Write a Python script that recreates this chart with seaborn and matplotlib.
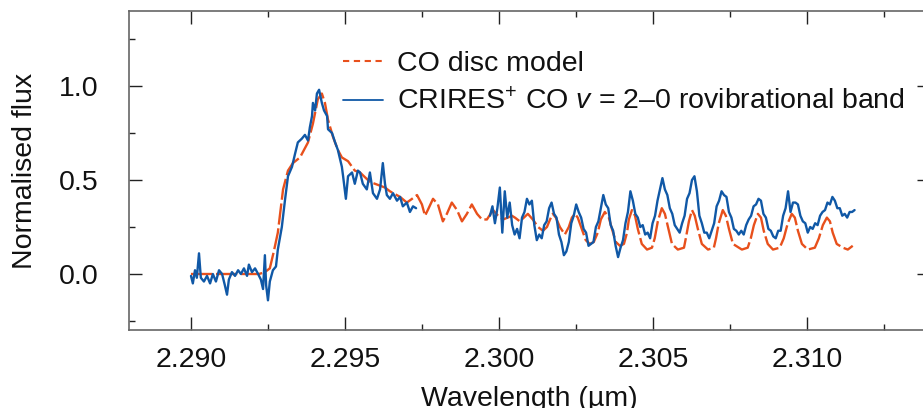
import matplotlib

matplotlib.use("Agg")
import matplotlib.pyplot as plt
import pandas as pd
import seaborn as sns
from matplotlib.lines import Line2D
from matplotlib.ticker import MultipleLocator

# CRIRES+ spectrum, first segment (up to ~2.2973 µm)
OBS_WAVE_1 = [
    2.29000, 2.29006, 2.29013, 2.29019, 2.29026, 2.29032, 2.29042, 2.29052, 2.29062, 2.29071,
    2.29081, 2.29091, 2.29101, 2.29110, 2.29117, 2.29123, 2.29133, 2.29143, 2.29153, 2.29162,
    2.29172, 2.29182, 2.29188, 2.29198, 2.29208, 2.29218, 2.29227, 2.29234, 2.29240, 2.29244,
    2.29250, 2.29256, 2.29266, 2.29276, 2.29282, 2.29295, 2.29305, 2.29315, 2.29328, 2.29338,
    2.29347, 2.29360, 2.29370, 2.29380, 2.29386, 2.29393, 2.29396, 2.29403, 2.29409, 2.29416,
    2.29425, 2.29432, 2.29442, 2.29445, 2.29458, 2.29468, 2.29477, 2.29490, 2.29494, 2.29503,
    2.29510, 2.29523, 2.29532, 2.29542, 2.29549, 2.29558, 2.29571, 2.29581, 2.29591, 2.29604,
    2.29614, 2.29623, 2.29630, 2.29636, 2.29646, 2.29656, 2.29669, 2.29679, 2.29688, 2.29701,
    2.29711, 2.29721, 2.29731,
]
OBS_FLUX_1 = [
    -0.01, -0.05, 0.02, -0.02, 0.11, -0.02, -0.04, -0.01, -0.05, 0.00,
    -0.04, 0.02, 0.00, -0.06, -0.11, -0.03, 0.01, -0.01, 0.02, 0.00,
    0.03, -0.01, 0.05, 0.01, 0.03, 0.00, -0.03, -0.08, 0.10, -0.06,
    -0.14, -0.04, 0.02, 0.04, 0.13, 0.25, 0.39, 0.52, 0.57, 0.64,
    0.70, 0.72, 0.74, 0.71, 0.78, 0.84, 0.91, 0.87, 0.96, 0.98,
    0.91, 0.87, 0.84, 0.77, 0.75, 0.70, 0.66, 0.57, 0.52, 0.40,
    0.52, 0.54, 0.48, 0.55, 0.54, 0.48, 0.45, 0.54, 0.43, 0.40,
    0.45, 0.59, 0.48, 0.42, 0.40, 0.43, 0.39, 0.41, 0.36, 0.38,
    0.33, 0.36, 0.35,
]

# CRIRES+ spectrum, second segment (from ~2.2997 µm)
OBS_WAVE_2 = [
    2.29971, 2.29979, 2.29987, 2.29995, 2.30003, 2.30011, 2.30019, 2.30027, 2.30035, 2.30043,
    2.30051, 2.30059, 2.30067, 2.30075, 2.30083, 2.30091, 2.30099, 2.30107, 2.30115, 2.30123,
    2.30131, 2.30139, 2.30147, 2.30155, 2.30163, 2.30171, 2.30179, 2.30187, 2.30195, 2.30203,
    2.30211, 2.30219, 2.30227, 2.30235, 2.30243, 2.30251, 2.30259, 2.30267, 2.30275, 2.30283,
    2.30291, 2.30299, 2.30307, 2.30315, 2.30323, 2.30331, 2.30339, 2.30347, 2.30355, 2.30363,
    2.30371, 2.30379, 2.30387, 2.30395, 2.30403, 2.30411, 2.30419, 2.30427, 2.30435, 2.30443,
    2.30451, 2.30459, 2.30467, 2.30475, 2.30483, 2.30491, 2.30499, 2.30507, 2.30515, 2.30523,
    2.30531, 2.30539, 2.30547, 2.30555, 2.30563, 2.30571, 2.30579, 2.30587, 2.30595, 2.30603,
    2.30611, 2.30619, 2.30627, 2.30635, 2.30643, 2.30651, 2.30659, 2.30667, 2.30675, 2.30683,
    2.30691, 2.30699, 2.30707, 2.30715, 2.30723, 2.30731, 2.30739, 2.30747, 2.30755, 2.30763,
    2.30771, 2.30779, 2.30787, 2.30795, 2.30803, 2.30811, 2.30819, 2.30827, 2.30835, 2.30843,
    2.30851, 2.30859, 2.30867, 2.30875, 2.30883, 2.30891, 2.30899, 2.30907, 2.30915, 2.30923,
    2.30931, 2.30939, 2.30947, 2.30955, 2.30963, 2.30971, 2.30979, 2.30987, 2.30995, 2.31003,
    2.31011, 2.31019, 2.31027, 2.31035, 2.31043, 2.31051, 2.31059, 2.31067, 2.31075, 2.31083,
    2.31091, 2.31099, 2.31107, 2.31115, 2.31123, 2.31131, 2.31139, 2.31147, 2.31155,
]
OBS_FLUX_2 = [
    0.31, 0.36, 0.27, 0.35, 0.46, 0.22, 0.44, 0.30, 0.38, 0.26,
    0.21, 0.24, 0.19, 0.30, 0.33, 0.40, 0.37, 0.39, 0.26, 0.18,
    0.21, 0.19, 0.26, 0.28, 0.35, 0.38, 0.32, 0.30, 0.21, 0.17,
    0.10, 0.12, 0.17, 0.27, 0.31, 0.37, 0.33, 0.30, 0.24, 0.22,
    0.15, 0.16, 0.17, 0.25, 0.28, 0.35, 0.42, 0.37, 0.35, 0.26,
    0.23, 0.15, 0.09, 0.14, 0.18, 0.27, 0.33, 0.44, 0.39, 0.32,
    0.30, 0.25, 0.26, 0.21, 0.22, 0.19, 0.27, 0.31, 0.39, 0.45,
    0.51, 0.45, 0.42, 0.35, 0.32, 0.26, 0.24, 0.22, 0.27, 0.31,
    0.40, 0.43, 0.50, 0.52, 0.44, 0.31, 0.27, 0.22, 0.22, 0.19,
    0.23, 0.27, 0.36, 0.39, 0.44, 0.42, 0.41, 0.33, 0.30, 0.24,
    0.23, 0.21, 0.23, 0.21, 0.26, 0.29, 0.31, 0.36, 0.37, 0.40,
    0.39, 0.32, 0.30, 0.24, 0.23, 0.20, 0.19, 0.23, 0.23, 0.31,
    0.35, 0.44, 0.33, 0.38, 0.38, 0.37, 0.31, 0.28, 0.27, 0.22,
    0.25, 0.24, 0.27, 0.26, 0.31, 0.33, 0.34, 0.38, 0.37, 0.41,
    0.39, 0.35, 0.35, 0.31, 0.32, 0.30, 0.33, 0.33, 0.34,
]

# CO disc model
MODEL_WAVE = [
    2.29000, 2.29221, 2.29240, 2.29256, 2.29269, 2.29282, 2.29299, 2.29315, 2.29331, 2.29354,
    2.29380, 2.29396, 2.29412, 2.29425, 2.29435, 2.29445, 2.29461, 2.29477, 2.29490, 2.29510,
    2.29532, 2.29549, 2.29581, 2.29614, 2.29630, 2.29646, 2.29679, 2.29701, 2.29718, 2.29734,
    2.29750, 2.29760, 2.29769, 2.29786, 2.29802, 2.29818, 2.29831, 2.29847, 2.29864, 2.29880,
    2.29896, 2.29912, 2.29929, 2.29945, 2.29961, 2.29981, 2.29997, 2.30013, 2.30029, 2.30042,
    2.30052, 2.30068, 2.30094, 2.30110,
    2.30127, 2.30143, 2.30156, 2.30166, 2.30175, 2.30185, 2.30198, 2.30214, 2.30227, 2.30237,
    2.30247, 2.30256, 2.30269, 2.30282, 2.30295, 2.30308, 2.30321, 2.30331, 2.30344, 2.30357,
    2.30367, 2.30380, 2.30393, 2.30406, 2.30416, 2.30422, 2.30432, 2.30442, 2.30451, 2.30464,
    2.30481, 2.30497, 2.30506, 2.30516, 2.30529, 2.30539, 2.30549, 2.30562, 2.30581, 2.30601,
    2.30607, 2.30617, 2.30627, 2.30636, 2.30646, 2.30659, 2.30679, 2.30698, 2.30705, 2.30714,
    2.30727, 2.30737, 2.30747, 2.30760, 2.30789, 2.30808, 2.30818, 2.30828, 2.30841, 2.30851,
    2.30860, 2.30873, 2.30890, 2.30912, 2.30925, 2.30938, 2.30951, 2.30961, 2.30971, 2.30984,
    2.31003, 2.31026, 2.31039, 2.31052, 2.31065, 2.31075, 2.31084, 2.31097, 2.31117, 2.31133,
    2.31149,
]
MODEL_FLUX = [
    0.00, 0.00, 0.01, 0.03, 0.12, 0.22, 0.45, 0.55, 0.59, 0.62,
    0.70, 0.80, 0.93, 0.96, 0.91, 0.82, 0.73, 0.66, 0.62, 0.60,
    0.55, 0.54, 0.49, 0.47, 0.46, 0.44, 0.41, 0.38, 0.40, 0.42,
    0.37, 0.31, 0.34, 0.40, 0.37, 0.28, 0.32, 0.38, 0.34, 0.28,
    0.32, 0.37, 0.32, 0.29, 0.29, 0.34, 0.31, 0.29, 0.30, 0.31,
    0.30, 0.28, 0.32, 0.29,
    0.25, 0.23, 0.25, 0.29, 0.32, 0.30, 0.25, 0.21, 0.25, 0.30,
    0.32, 0.30, 0.24, 0.18, 0.16, 0.17, 0.22, 0.29, 0.33, 0.30,
    0.24, 0.17, 0.15, 0.16, 0.22, 0.29, 0.34, 0.31, 0.24, 0.16,
    0.13, 0.14, 0.19, 0.28, 0.35, 0.32, 0.25, 0.16, 0.13, 0.14,
    0.19, 0.28, 0.34, 0.31, 0.24, 0.16, 0.13, 0.14, 0.19, 0.27,
    0.34, 0.31, 0.24, 0.16, 0.13, 0.14, 0.19, 0.26, 0.32, 0.30,
    0.23, 0.16, 0.13, 0.14, 0.19, 0.27, 0.32, 0.30, 0.23, 0.16,
    0.13, 0.14, 0.19, 0.26, 0.30, 0.28, 0.22, 0.16, 0.14, 0.13,
    0.15,
]

X_TICKS = [2.290, 2.295, 2.300, 2.305, 2.310]
Y_TICKS = [0.0, 0.5, 1.0]

MODEL_LABEL = "CO disc model"
OBS_LABEL = "CRIRES$^{+}$ CO $v$ = 2\u20130 rovibrational band"

ORANGE = "#e8501c"
BLUE = "#1058a6"
INK = "#111111"
FS = 20.5

sns.set_theme(style="ticks")
plt.rcParams["font.family"] = ["Liberation Sans", "DejaVu Sans"]
plt.rcParams["mathtext.fontset"] = "custom"
plt.rcParams["mathtext.rm"] = "Liberation Sans"
plt.rcParams["mathtext.it"] = "Liberation Sans:italic"
plt.rcParams["text.color"] = INK
plt.rcParams["axes.labelcolor"] = INK

model = pd.DataFrame({"wave": MODEL_WAVE, "flux": MODEL_FLUX})
obs = pd.concat(
    [
        pd.DataFrame({"wave": OBS_WAVE_1, "flux": OBS_FLUX_1, "seg": 1}),
        pd.DataFrame({"wave": OBS_WAVE_2, "flux": OBS_FLUX_2, "seg": 2}),
    ],
    ignore_index=True,
)

fig = plt.figure(figsize=(9.23, 4.08), dpi=100)
ax = fig.add_axes([0.1402, 0.1902, 0.8674, 0.7833])

sns.lineplot(
    data=model, x="wave", y="flux", ax=ax, color=ORANGE, lw=1.7,
    linestyle=(0, (9, 1.6)), sort=False, estimator=None,
)
sns.lineplot(
    data=obs, x="wave", y="flux", units="seg", ax=ax, color=BLUE, lw=1.7,
    sort=False, estimator=None,
)

ax.set_xlim(2.288, 2.314)
ax.set_ylim(-0.3, 1.4)
ax.set_xticks(X_TICKS)
ax.set_xticklabels([f"{t:.3f}" for t in X_TICKS])
ax.set_yticks(Y_TICKS)
ax.set_yticklabels([f"{t:.1f}" for t in Y_TICKS])
ax.xaxis.set_minor_locator(MultipleLocator(0.0025))
ax.yaxis.set_minor_locator(MultipleLocator(0.25))
ax.tick_params(which="both", direction="in", top=True, right=True,
               color="#222222", width=1.0, labelsize=FS, labelcolor=INK)
ax.tick_params(which="major", length=9.5)
ax.tick_params(which="minor", length=4.5)
ax.tick_params(axis="x", pad=12)
ax.tick_params(axis="y", pad=22)
for s in ax.spines.values():
    s.set_color("#666666")
    s.set_linewidth(1.2)

ax.set_xlabel("Wavelength (µm)", fontsize=FS, labelpad=9)
ax.set_ylabel("Normalised flux", fontsize=FS, labelpad=15)

handles = [
    Line2D([], [], color=ORANGE, lw=1.5, linestyle=(0, (3, 2.2))),
    Line2D([], [], color=BLUE, lw=1.3),
]
ax.legend(
    handles, [MODEL_LABEL, OBS_LABEL], loc="upper left",
    bbox_to_anchor=(343 / 923, 1 - 51 / 408), bbox_transform=fig.transFigure,
    frameon=False, fontsize=FS, handlelength=1.4, handletextpad=0.5,
    labelspacing=0.4, borderpad=0, borderaxespad=0,
)

fig.savefig("out.png", dpi=100)
